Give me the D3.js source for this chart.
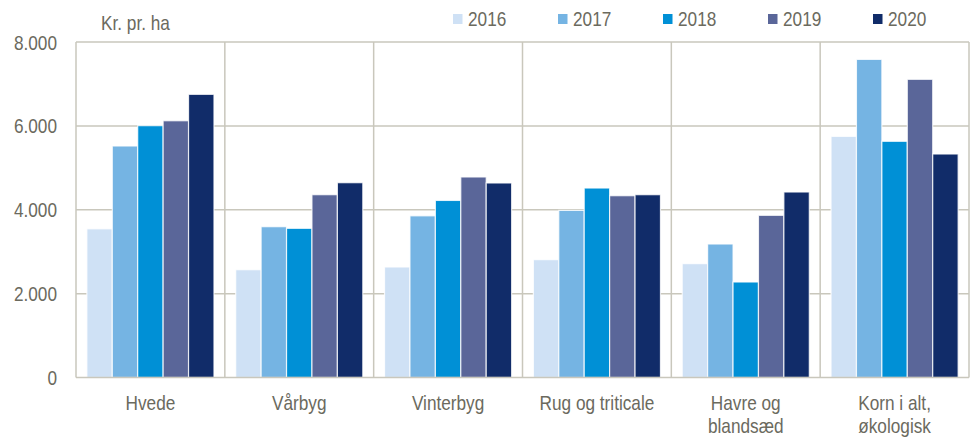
<!DOCTYPE html>
<html>
<head>
<meta charset="utf-8">
<script src="https://cdn.jsdelivr.net/npm/d3@7"></script>
<style>
  html, body { margin: 0; padding: 0; background: #fff; }
  svg text { font-family: "Liberation Sans", Arial, sans-serif; fill: #6b6a5e; }
</style>
</head>
<body>
<svg id="svg"></svg>
<script>
const categories = [["Hvede"], ["Vårbyg"], ["Vinterbyg"], ["Rug og triticale"], ["Havre og", "blandsæd"], ["Korn i alt,", "økologisk"]];
const years = ["2016", "2017", "2018", "2019", "2020"];
const colors = ["#cfe1f5", "#75b4e3", "#0090d6", "#5a6699", "#112c69"];
const v2016 = [3545, 2570, 2635, 2810, 2715, 5750];
const v2017 = [5520, 3596, 3855, 3985, 3183, 7585];
const v2018 = [6005, 3557, 4222, 4518, 2277, 5632];
const v2019 = [6122, 4359, 4781, 4335, 3867, 7110];
const v2020 = [6752, 4645, 4638, 4359, 4423, 5329];
const yTicks = [0, 2000, 4000, 6000, 8000];

const series = [v2016, v2017, v2018, v2019, v2020];

let layout = {"width": 972,
              "height": 439,
              "marginTop": 42,
              "marginRight": 3,
              "marginBottom": 61.5,
              "marginLeft": 76};

// Arial Narrow is not installed, so squeeze Liberation Sans horizontally
const narrow = 0.82;
const place = (x, y) => `translate(${x},${y}) scale(${narrow},1)`;

let svg = d3.select("#svg")
            .attr("width", layout.width)
            .attr("height", layout.height);

const catKeys = categories.map(c => c.join(" "));

let x0 = d3.scaleBand()
           .domain(catKeys)
           .range([layout.marginLeft, layout.width - layout.marginRight])
           .paddingInner(0.146)
           .paddingOuter(0.073);

let x1 = d3.scaleBand()
           .domain(years)
           .range([0, x0.bandwidth()]);

let yScale = d3.scaleLinear()
               .domain([0, 8000])
               .range([layout.height - layout.marginBottom, layout.marginTop]);

const grid = "#c9c7bc";
const step = x0.step();

// horizontal gridlines
svg.append("g").selectAll("line")
   .data(yTicks.slice(1))
   .join("line")
   .attr("x1", layout.marginLeft).attr("x2", layout.width - layout.marginRight)
   .attr("y1", d => yScale(d)).attr("y2", d => yScale(d))
   .attr("stroke", grid).attr("stroke-width", 1.5);

// category separators
svg.append("g").selectAll("line")
   .data(catKeys)
   .join("line")
   .attr("x1", d => x0(d) - x0.paddingOuter() * step + step)
   .attr("x2", d => x0(d) - x0.paddingOuter() * step + step)
   .attr("y1", yScale(8000)).attr("y2", yScale(0))
   .attr("stroke", grid).attr("stroke-width", 1.5);

// bars
const rows = [];
catKeys.forEach((c, i) => years.forEach((yr, j) => rows.push({cat: c, year: yr, value: series[j][i], idx: j})));

svg.append("g").selectAll("rect")
   .data(rows)
   .join("rect")
   .attr("x", d => x0(d.cat) + x1(d.year))
   .attr("y", d => yScale(d.value))
   .attr("width", x1.bandwidth())
   .attr("height", d => yScale(0) - yScale(d.value))
   .attr("fill", d => colors[d.idx])
   .attr("stroke", "#ffffff")
   .attr("stroke-opacity", 0.8)
   .attr("stroke-width", 1.2);

// axis lines
svg.append("line")
   .attr("x1", layout.marginLeft).attr("x2", layout.marginLeft)
   .attr("y1", yScale(8000)).attr("y2", yScale(0))
   .attr("stroke", grid).attr("stroke-width", 1.5);
svg.append("line")
   .attr("x1", layout.marginLeft).attr("x2", layout.width - layout.marginRight)
   .attr("y1", yScale(0)).attr("y2", yScale(0))
   .attr("stroke", grid).attr("stroke-width", 1.5);

// y labels
svg.append("g").selectAll("text")
   .data(yTicks)
   .join("text")
   .attr("transform", d => place(57, yScale(d) + 7.5))
   .attr("text-anchor", "end")
   .attr("font-size", 21)
   .text(d => d3.format(",")(d).replace(/,/g, "."));

svg.append("text")
   .attr("transform", place(101, 30))
   .attr("font-size", 21)
   .text("Kr. pr. ha");

// category labels
svg.append("g").selectAll("text")
   .data(categories)
   .join("text")
   .attr("transform", (d, i) => place(x0(catKeys[i]) + x0.bandwidth() / 2, 410))
   .attr("text-anchor", "middle")
   .attr("font-size", 21)
   .each(function(d) {
     d3.select(this).selectAll("tspan")
       .data(d)
       .join("tspan")
       .attr("x", 0)
       .attr("dy", (t, k) => k === 0 ? 0 : 23)
       .text(t => t);
   });

// legend
const legendX = [453, 558, 663, 768, 873];
let legend = svg.append("g").selectAll("g")
   .data(years)
   .join("g")
   .attr("transform", (d, i) => `translate(${legendX[i]}, 14)`);
legend.append("rect")
   .attr("width", 9.5).attr("height", 10)
   .attr("fill", (d, i) => colors[i]);
legend.append("text")
   .attr("transform", place(15, 12))
   .attr("font-size", 21)
   .text(d => d);
</script>
</body>
</html>
